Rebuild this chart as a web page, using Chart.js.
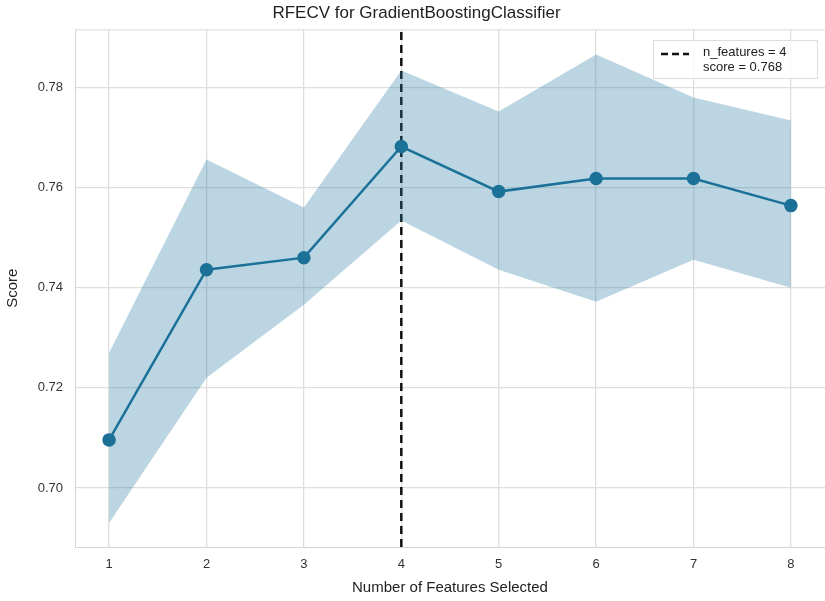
<!DOCTYPE html>
<html>
<head>
<meta charset="utf-8">
<script src="https://cdn.jsdelivr.net/npm/chart.js@4"></script>
<style>
  html, body { margin: 0; padding: 0; background: #fff; overflow: hidden; }
  #wrap { width: 833px; height: 601px; }
</style>
</head>
<body>
<div id="wrap"><canvas id="rfecv"></canvas></div>
<script>
// data
const nFeatures = [1, 2, 3, 4, 5, 6, 7, 8];
const meanScore = [0.7096, 0.7436, 0.7460, 0.7682, 0.7592, 0.7618, 0.7618, 0.7564];
const upperScore = [0.7270, 0.7656, 0.7560, 0.7834, 0.7752, 0.7866, 0.7780, 0.7734];
const lowerScore = [0.6930, 0.7220, 0.7366, 0.7534, 0.7436, 0.7372, 0.7456, 0.7400];
const yTicks = [0.70, 0.72, 0.74, 0.76, 0.78];
const bestN = 4;
const bestScore = 0.768;

const xMin = 0.65, xMax = 8.35;
const yMin = 0.6882, yMax = 0.7916;

const pts = arr => nFeatures.map((n, i) => ({ x: n, y: arr[i] }));

// legend box inside the plot + top spine
const boxPlugin = {
  id: 'boxPlugin',
  afterDraw(chart) {
    const { ctx, chartArea: a } = chart;
    ctx.save();
    ctx.strokeStyle = '#d9d9d9';
    ctx.lineWidth = 1;
    ctx.beginPath();
    ctx.moveTo(a.left, a.top + 0.5);
    ctx.lineTo(a.right, a.top + 0.5);
    ctx.stroke();

    // legend
    const bx = 653, by = 40, bw = 164, bh = 38;
    ctx.fillStyle = 'rgba(255,255,255,0.85)';
    ctx.strokeStyle = '#dddddd';
    ctx.fillRect(bx, by, bw, bh);
    ctx.strokeRect(bx + 0.5, by + 0.5, bw, bh);
    ctx.strokeStyle = '#111';
    ctx.lineWidth = 2.5;
    ctx.setLineDash([7, 4]);
    ctx.beginPath();
    ctx.moveTo(bx + 8, by + 14);
    ctx.lineTo(bx + 36, by + 14);
    ctx.stroke();
    ctx.setLineDash([]);
    ctx.fillStyle = '#222';
    ctx.font = '13px "Liberation Sans", Arial, sans-serif';
    ctx.textBaseline = 'middle';
    ctx.fillText('n_features = ' + bestN, bx + 50, by + 12);
    ctx.fillText('score = ' + bestScore.toFixed(3), bx + 50, by + 27);
    ctx.restore();
  }
};

new Chart(document.getElementById('rfecv'), {
  type: 'line',
  data: {
    datasets: [
      {
        label: 'upper',
        data: pts(upperScore),
        borderWidth: 0,
        pointRadius: 0,
        backgroundColor: 'rgba(31,119,160,0.3)',
        fill: '+1',
        tension: 0
      },
      {
        label: 'lower',
        data: pts(lowerScore),
        borderWidth: 0,
        pointRadius: 0,
        fill: false,
        tension: 0
      },
      {
        label: 'score',
        data: pts(meanScore),
        borderColor: '#1b6f96',
        backgroundColor: '#1b6f96',
        borderWidth: 2.5,
        pointRadius: 5.5,
        pointHoverRadius: 5.5,
        fill: false,
        tension: 0
      },
      {
        label: 'n_features = ' + bestN,
        data: [{ x: bestN, y: yMin }, { x: bestN, y: yMax }],
        borderColor: '#111',
        borderWidth: 2.5,
        borderDash: [8, 5],
        pointRadius: 0,
        fill: false
      }
    ]
  },
  options: {
    responsive: true,
    maintainAspectRatio: false,
    animation: false,
    layout: { padding: { top: 0, right: 0, bottom: 0, left: 0 } },
    plugins: {
      legend: { display: false },
      tooltip: { enabled: false },
      title: {
        display: true,
        text: 'RFECV for GradientBoostingClassifier',
        color: '#222',
        font: { family: '"Liberation Sans", Arial, sans-serif', size: 17, weight: 'normal' },
        padding: { top: 3, bottom: 6 },
        align: 'center'
      }
    },
    scales: {
      x: {
        type: 'linear',
        min: xMin,
        max: xMax,
        afterBuildTicks: s => { s.ticks = nFeatures.map(v => ({ value: v })); },
        afterFit: s => { s.height = 54; },
        grid: { color: '#dedede', lineWidth: 1.3, drawTicks: false },
        border: { color: '#d4d4d4' },
        ticks: {
          padding: 10,
          color: '#333',
          font: { family: '"Liberation Sans", Arial, sans-serif', size: 13 }
        },
        title: {
          display: true,
          text: 'Number of Features Selected',
          color: '#222',
          font: { family: '"Liberation Sans", Arial, sans-serif', size: 15 },
          padding: { top: 2 }
        }
      },
      y: {
        min: yMin,
        max: yMax,
        afterBuildTicks: s => { s.ticks = yTicks.map(v => ({ value: v })); },
        afterFit: s => { s.width = 75; },
        grid: { color: '#dedede', lineWidth: 1.3, drawTicks: false },
        border: { color: '#d4d4d4' },
        ticks: {
          padding: 12,
          color: '#333',
          font: { family: '"Liberation Sans", Arial, sans-serif', size: 13 },
          callback: v => v.toFixed(2)
        },
        title: {
          display: true,
          text: 'Score',
          color: '#222',
          font: { family: '"Liberation Sans", Arial, sans-serif', size: 15 },
          padding: { bottom: 4 }
        }
      }
    }
  },
  plugins: [boxPlugin]
});
</script>
</body>
</html>
